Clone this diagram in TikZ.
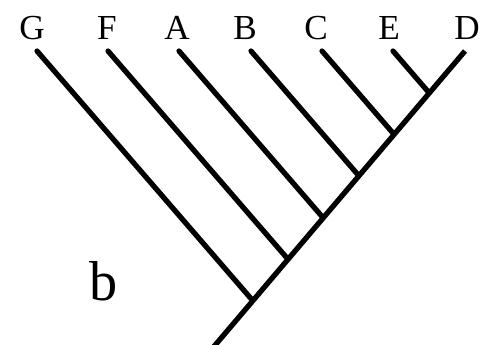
\documentclass[tikz,border=0pt]{standalone}
\usepackage{fontspec}
\setmainfont{Liberation Serif}
\begin{document}
\begin{tikzpicture}[x=0.02cm, y=-0.02cm,
		rama/.style={line width=3pt, line cap=round},
		etiqueta/.style={anchor=base, inner sep=0pt, font=\fontsize{20}{22}\selectfont}]
		\useasboundingbox (0,0) rectangle (481,345);
		% Etiquetas de los taxones
		\node[etiqueta] (lG) at (32,39.5) {G};
		\node[etiqueta] (lF) at (107,39.5) {F};
		\node[etiqueta] (lA) at (177,39.5) {A};
		\node[etiqueta] (lB) at (245,39.5) {B};
		\node[etiqueta] (lC) at (316,39.5) {C};
		\node[etiqueta] (lE) at (389,39.5) {E};
		\node[etiqueta] (lD) at (467,39.5) {D};
		% Puntas de las ramas
		\coordinate (tG) at (37,51);
		\coordinate (tF) at (108,51);
		\coordinate (tA) at (179,51);
		\coordinate (tB) at (251,51);
		\coordinate (tC) at (322,51);
		\coordinate (tE) at (393,51);
		\coordinate (tD) at (465,51);
		% Raiz y nodos internos
		\coordinate (raiz) at (211,350);
		\coordinate (nG) at (251,298.6);
		\coordinate (nF) at (286.5,257.5);
		\coordinate (nA) at (322,216.5);
		\coordinate (nB) at (358,174.8);
		\coordinate (nC) at (393.5,133.7);
		\coordinate (nE) at (429,92.7);
		% Tronco principal
		\draw[rama, line cap=butt] (raiz) -- (tD);
		% Ramas laterales
		\draw[rama] (tG) -- (nG);
		\draw[rama] (tF) -- (nF);
		\draw[rama] (tA) -- (nA);
		\draw[rama] (tB) -- (nB);
		\draw[rama] (tC) -- (nC);
		\draw[rama] (tE) -- (nE);
		% Letra del panel
		\node[anchor=base, inner sep=0pt, font=\fontsize{32}{34}\selectfont] (panel) at (104,300) {b};
	\end{tikzpicture}
\end{document}
